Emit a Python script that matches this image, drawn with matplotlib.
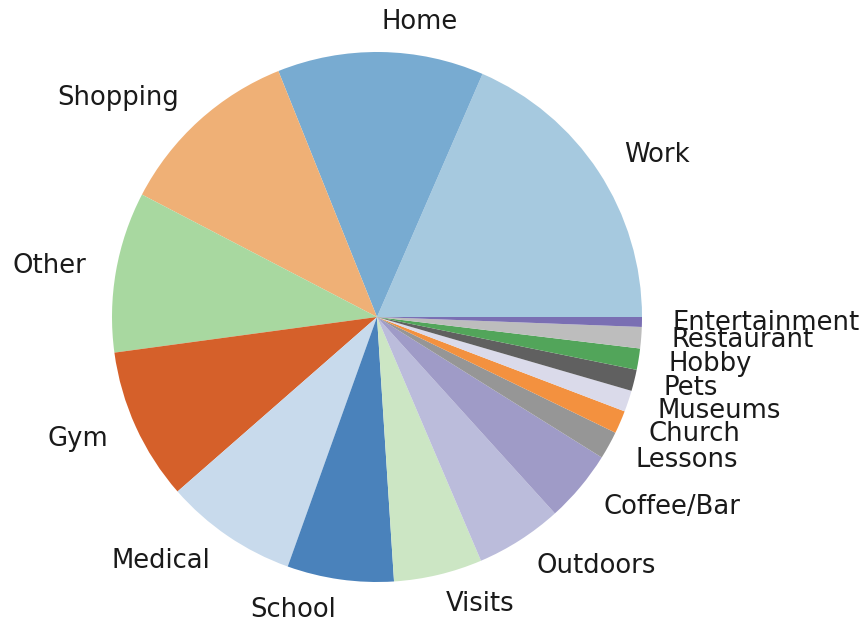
import matplotlib
matplotlib.use("Agg")
import matplotlib.pyplot as plt

# Share of trips by purpose (percent)
categories = ["Work", "Home", "Shopping", "Other", "Gym", "Medical", "School",
              "Visits", "Outdoors", "Coffee/Bar", "Lessons", "Church",
              "Museums", "Pets", "Hobby", "Restaurant", "Entertainment"]
shares = [18.5, 12.6, 11.3, 9.8, 9.3, 8.1, 6.5,
          5.4, 5.3, 4.4, 1.7, 1.4,
          1.3, 1.3, 1.3, 1.3, 0.6]
colors = ["#a6c9df", "#78abd1", "#efb076", "#a8d8a0", "#d5602a", "#c8daec",
          "#4a82bb", "#cce6c4", "#bbbcdb", "#9f9bc7", "#969696", "#f3913f",
          "#dadaea", "#606060", "#52a55a", "#bdbdbd", "#7a6fb3"]

W, H = 866, 622
fig = plt.figure(figsize=(W / 100, H / 100), dpi=100)

# pie of radius 1 spanning 265 px, centred at (377, 317) from the top-left
r_px = 265.0
cx, cy = 377.0, 317.0
span = 2.5 * r_px
ax = fig.add_axes([(cx - span / 2) / W, ((H - cy) - span / 2) / H, span / W, span / H])

ax.pie(shares, labels=categories, colors=colors, startangle=0,
       counterclock=True, labeldistance=1.115,
       textprops={"fontsize": 18.6, "color": "#1a1a1a"},
       wedgeprops={"linewidth": 0})
ax.set_xlim(-1.25, 1.25)
ax.set_ylim(-1.25, 1.25)
ax.set_aspect("equal")
ax.axis("off")

fig.savefig("out.png", dpi=100)
